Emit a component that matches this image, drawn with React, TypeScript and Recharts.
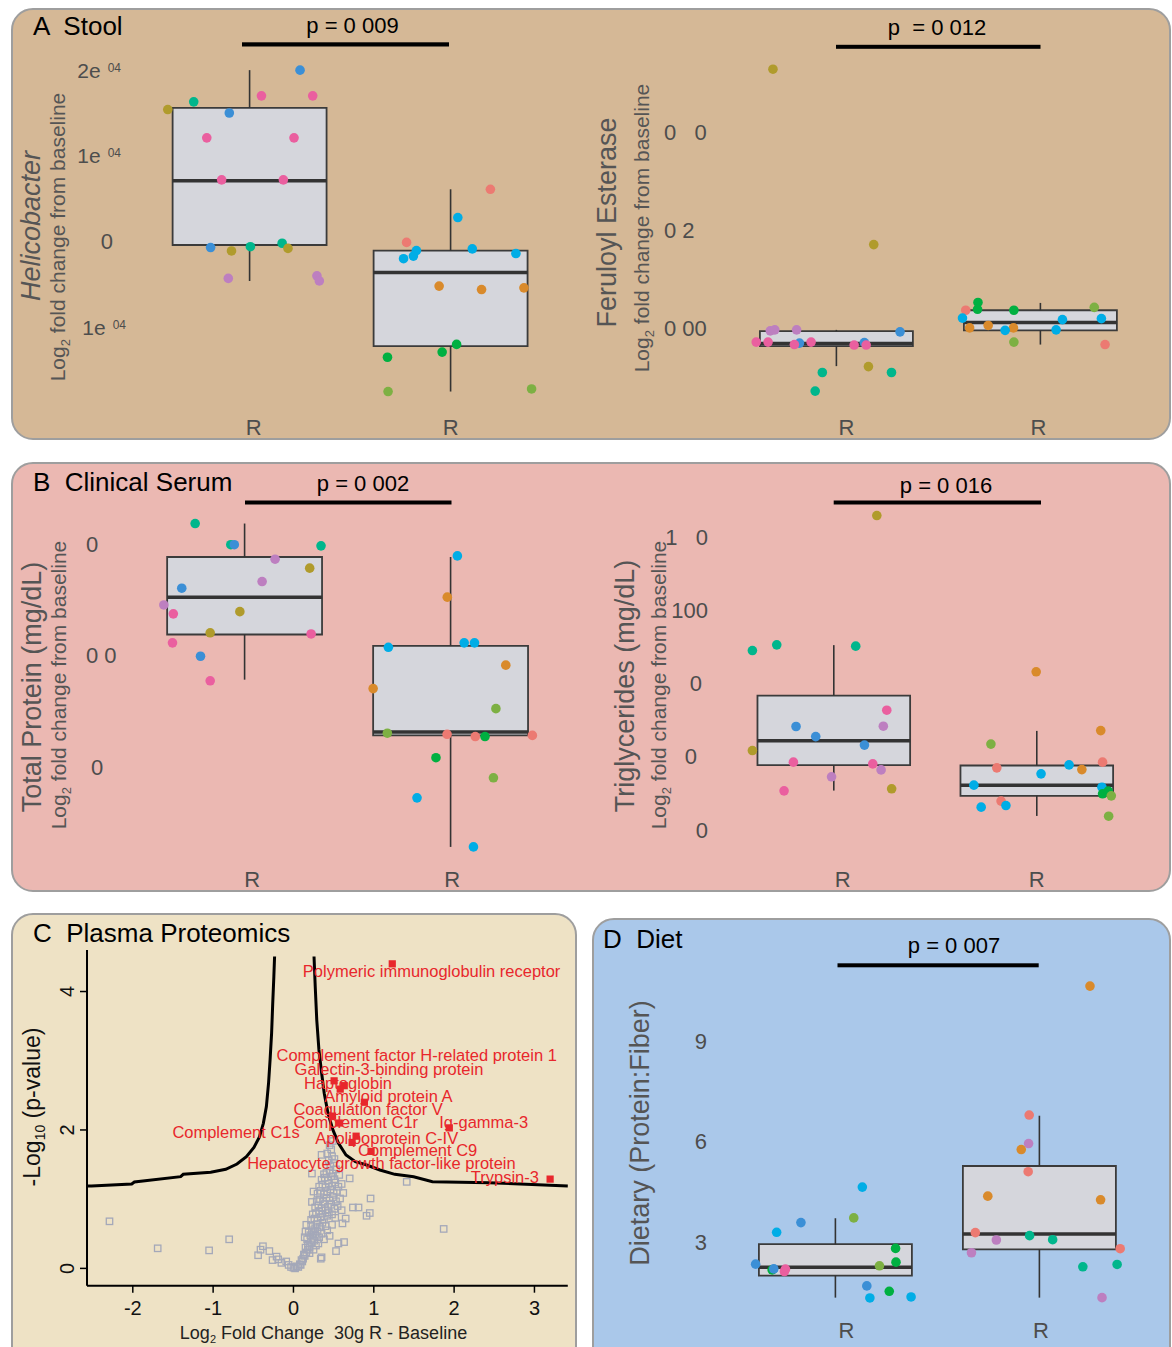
import React from 'react';
import { ComposedChart, Scatter, XAxis, YAxis, ReferenceArea, ReferenceLine } from 'recharts';

const FONT = '"Liberation Sans", Arial, Helvetica, sans-serif';
const TICK_GRAY = '#4d4d4d';
const TITLE_GRAY = '#555555';
const RED = '#e8272c';

const PALETTE: Record<string, string> = {
  olive: '#b09b2c',
  teal: '#00b68c',
  blue: '#3b8fd6',
  pink: '#ea5f9f',
  purple: '#bd7fc0',
  salmon: '#ec7a72',
  cyan: '#00ade6',
  orange: '#d98a2b',
  green: '#00b041',
  lime: '#7db043',
};

// ---------- Panel A left: Helicobacter ----------
const groupLabels = ['R', 'R'];
const heliTicks = [2, 1, 0, -1];
const heliTickText = ['2e', '1e', '0', '1e'];
const heliTickSup = ['04', '04', '', '04'];
const heliBoxes = [
  { lo: -0.46, q1: -0.04, med: 0.71, q3: 1.56, hi: 2.0 },
  { lo: -1.75, q1: -1.22, med: -0.36, q3: -0.105, hi: 0.61 },
];
const heliX1 = [0.593, 0.722, 1.251, 1.059, 1.314, 0.899, 0.787, 1.221, 0.861, 1.168, 0.806, 0.91, 1.004, 1.162, 1.191, 0.894, 1.335, 1.347];
const heliY1 = [1.54, 1.63, 2.0, 1.7, 1.7, 1.5, 1.21, 1.21, 0.72, 0.72, -0.07, -0.11, -0.06, -0.02, -0.08, -0.43, -0.4, -0.46];
const heliC1 = ['olive', 'teal', 'blue', 'pink', 'pink', 'blue', 'pink', 'pink', 'pink', 'pink', 'blue', 'olive', 'teal', 'teal', 'olive', 'purple', 'purple', 'purple'];
const heliX2 = [2.198, 2.036, 1.781, 1.83, 1.815, 1.766, 2.108, 2.325, 1.943, 2.154, 2.365, 2.03, 1.958, 1.686, 1.689, 2.403];
const heliY2 = [0.61, 0.28, -0.01, -0.105, -0.17, -0.2, -0.085, -0.14, -0.52, -0.56, -0.54, -1.2, -1.29, -1.35, -1.75, -1.72];
const heliC2 = ['salmon', 'cyan', 'salmon', 'cyan', 'cyan', 'cyan', 'cyan', 'cyan', 'orange', 'orange', 'orange', 'green', 'green', 'green', 'lime', 'lime'];

// ---------- Panel A right: Feruloyl Esterase ----------
const ferTicks = [0.4, 0.2, 0];
const ferTickText = ['0   0', '0 2', '0 00'];
const ferBoxes = [
  { lo: -0.077, q1: -0.036, med: -0.031, q3: -0.0055, hi: -0.003 },
  { lo: -0.033, q1: -0.004, med: 0.012, q3: 0.037, hi: 0.052 },
];
const ferX1 = [0.689, 1.183, 0.676, 0.698, 0.805, 1.312, 0.607, 0.665, 0.819, 0.794, 0.876, 1.137, 1.087, 1.146, 1.157, 0.931, 1.27, 0.896];
const ferY1 = [0.529, 0.171, -0.005, -0.003, -0.003, -0.007, -0.028, -0.028, -0.03, -0.033, -0.028, -0.029, -0.034, -0.034, -0.078, -0.09, -0.09, -0.128];
const ferC1 = ['olive', 'olive', 'purple', 'purple', 'purple', 'blue', 'pink', 'pink', 'blue', 'pink', 'pink', 'blue', 'pink', 'pink', 'olive', 'teal', 'teal', 'teal'];
const ferX2 = [1.694, 1.692, 1.634, 1.87, 2.264, 1.618, 2.108, 2.299, 1.653, 1.744, 1.868, 1.827, 2.077, 1.87, 2.317];
const ferY2 = [0.053, 0.039, 0.037, 0.037, 0.043, 0.021, 0.018, 0.02, 0.001, 0.006, 0.001, -0.004, -0.003, -0.028, -0.033];
const ferC2 = ['green', 'green', 'salmon', 'green', 'lime', 'cyan', 'cyan', 'cyan', 'orange', 'orange', 'orange', 'cyan', 'cyan', 'lime', 'salmon'];

// ---------- Panel B left: Total Protein ----------
const proTicks = [1, 0, -1];
const proTickText = ['0', '0 0', '0'];
const proBoxes = [
  { lo: -0.22, q1: 0.185, med: 0.52, q3: 0.88, hi: 1.18 },
  { lo: -1.72, q1: -0.72, med: -0.69, q3: 0.083, hi: 0.88 },
];
const proX1 = [0.76, 0.933, 0.95, 1.371, 1.148, 1.316, 1.085, 0.695, 0.608, 0.654, 0.977, 0.833, 1.323, 0.65, 0.786, 0.833];
const proY1 = [1.18, 0.99, 0.99, 0.98, 0.86, 0.78, 0.66, 0.6, 0.45, 0.37, 0.39, 0.2, 0.19, 0.11, -0.01, -0.23];
const proC1 = ['teal', 'teal', 'blue', 'teal', 'purple', 'olive', 'purple', 'blue', 'purple', 'pink', 'olive', 'olive', 'pink', 'pink', 'blue', 'pink'];
const proX2 = [2.033, 1.984, 1.698, 2.066, 2.116, 2.268, 1.624, 2.22, 1.693, 1.983, 2.12, 2.167, 2.397, 1.929, 2.208, 1.837, 2.111];
const proY2 = [0.89, 0.52, 0.07, 0.11, 0.11, -0.09, -0.3, -0.48, -0.7, -0.71, -0.73, -0.73, -0.72, -0.92, -1.1, -1.28, -1.72];
const proC2 = ['cyan', 'orange', 'cyan', 'cyan', 'cyan', 'orange', 'orange', 'lime', 'lime', 'salmon', 'salmon', 'green', 'salmon', 'green', 'lime', 'cyan', 'cyan'];

// ---------- Panel B right: Triglycerides ----------
const triTicks = [150, 100, 50, 0, -50];
const triTickText = ['1   0', '100', '0', '0', '0'];
const triBoxes = [
  { lo: -23.2, q1: -5.9, med: 10.7, q3: 41.6, hi: 76 },
  { lo: -40.5, q1: -26.8, med: -19.5, q3: -6.1, hi: 17.5 },
];
const triX1 = [1.212, 0.599, 0.719, 1.108, 1.261, 0.814, 1.244, 0.911, 1.151, 0.599, 0.801, 1.192, 1.233, 0.989, 0.755, 1.285];
const triY1 = [164.4, 72.3, 76.2, 75.3, 31.6, 20.5, 20.7, 13.6, 7.8, 4.1, -3.8, -5.0, -9.1, -13.8, -23.4, -22.0];
const triC1 = ['olive', 'teal', 'teal', 'teal', 'pink', 'blue', 'purple', 'blue', 'blue', 'olive', 'pink', 'pink', 'purple', 'purple', 'pink', 'olive'];
const triX2 = [1.997, 2.315, 1.774, 2.324, 1.803, 2.159, 2.222, 2.021, 1.69, 2.321, 2.324, 2.352, 2.367, 1.824, 1.726, 1.848, 2.354];
const triY2 = [57.8, 17.7, 8.5, -3.8, -7.7, -5.7, -8.9, -11.8, -19.5, -20.9, -25.4, -23.6, -26.8, -30.4, -34.5, -33.4, -40.7];
const triC2 = ['orange', 'orange', 'lime', 'salmon', 'salmon', 'cyan', 'orange', 'cyan', 'cyan', 'cyan', 'green', 'green', 'lime', 'salmon', 'cyan', 'cyan', 'lime'];

// ---------- Panel D: Diet ----------
const dietTicks = [9, 6, 3];
const dietTickText = ['9', '6', '3'];
const dietBoxes = [
  { lo: 1.33, q1: 1.99, med: 2.24, q3: 2.93, hi: 3.7 },
  { lo: 1.33, q1: 2.77, med: 3.23, q3: 5.26, hi: 6.76 },
];
const dietX1 = [1.132, 1.09, 0.831, 0.712, 1.295, 1.297, 1.216, 0.609, 0.69, 0.698, 0.755, 0.75, 1.154, 1.264, 1.169, 1.371];
const dietY1 = [4.63, 3.71, 3.57, 3.28, 2.8, 2.39, 2.28, 2.33, 2.16, 2.19, 2.18, 2.11, 1.68, 1.52, 1.32, 1.35];
const dietC1 = ['cyan', 'lime', 'blue', 'cyan', 'green', 'green', 'lime', 'blue', 'green', 'blue', 'pink', 'pink', 'blue', 'green', 'cyan', 'cyan'];
const dietX2 = [2.248, 1.95, 1.947, 1.911, 1.945, 1.747, 2.3, 1.686, 1.952, 1.789, 2.065, 1.667, 2.396, 2.213, 2.381, 2.307];
const dietY2 = [10.63, 6.78, 5.93, 5.75, 5.09, 4.36, 4.25, 3.27, 3.18, 3.05, 3.06, 2.67, 2.79, 2.25, 2.32, 1.33];
const dietC2 = ['orange', 'salmon', 'purple', 'orange', 'salmon', 'orange', 'orange', 'salmon', 'teal', 'purple', 'teal', 'purple', 'salmon', 'teal', 'teal', 'purple'];

// ---------- Panel C: volcano ----------
const volXTicks = [-2, -1, 0, 1, 2, 3];
const volYTicks = [0, 2, 4];
const leftCurveX = [-2.57, -2.514, -2.013, -1.98, -1.404, -1.372, -1.03, -0.843, -0.703, -0.586, -0.492, -0.422, -0.375, -0.337, -0.31, -0.291, -0.272, -0.258, -0.244, -0.235];
const leftCurveY = [1.19, 1.19, 1.219, 1.248, 1.325, 1.359, 1.388, 1.431, 1.508, 1.614, 1.749, 1.903, 2.096, 2.337, 2.675, 3.012, 3.398, 3.832, 4.217, 4.506];
const rightCurveX = [0.256, 0.271, 0.29, 0.317, 0.351, 0.383, 0.43, 0.491, 0.561, 0.654, 0.771, 0.912, 1.076, 1.262, 1.496, 1.73, 2.433, 3.415];
const rightCurveY = [4.506, 4.073, 3.591, 3.157, 2.82, 2.531, 2.241, 2.0, 1.808, 1.638, 1.542, 1.494, 1.422, 1.359, 1.325, 1.252, 1.238, 1.19];
const sigX = [1.23, 0.506, 0.632, 0.582, 0.883, 0.486, 0.57, 1.94, 0.78, 0.73, 0.966, 3.195];
const sigY = [4.4, 2.71, 2.64, 2.59, 2.4, 2.2, 2.1, 2.03, 1.91, 1.82, 1.69, 1.29];
const labelText = [
  'Polymeric immunoglobulin receptor',
  'Complement factor H-related protein 1',
  'Galectin-3-binding protein',
  'Haptoglobin',
  'Amyloid protein A',
  'Coagulation factor V',
  'Complement C1r',
  'Ig-gamma-3',
  'Complement C1s',
  'Apolipoprotein C-IV',
  'Complement C9',
  'Hepatocyte growth factor-like protein',
  'Trypsin-3',
];
const labelX = [0.117, -0.211, 0.014, 0.131, 0.383, 0.0, 0.0, 1.815, -1.507, 0.271, 0.805, -0.576, 2.208];
const labelY = [4.289, 3.085, 2.882, 2.675, 2.496, 2.308, 2.116, 2.116, 1.967, 1.884, 1.715, 1.523, 1.325];
const grayProteins: [number, number][] = [
  [-2.29, 0.68], [-1.69, 0.29], [-1.05, 0.26], [-0.8, 0.42], [1.87, 0.57], [1.41, 1.25],
  [-0.44, 0.19], [-0.41, 0.27], [-0.38, 0.32], [-0.3, 0.25], [-0.26, 0.12], [-0.21, 0.17], [-0.19, 0.13],
  [-0.15, 0.08], [-0.09, 0.1], [-0.06, 0.05], [-0.03, 0.02], [0.0, 0.01], [0.02, 0.0], [0.04, 0.03],
  [0.06, 0.02], [0.08, 0.06], [0.09, 0.05], [0.11, 0.1], [0.12, 0.14], [0.1, 0.12], [0.14, 0.18],
  [0.16, 0.23], [0.13, 0.2], [0.18, 0.27], [0.2, 0.22], [0.34, 0.14], [0.53, 0.25],
  [0.15, 0.3], [0.18, 0.34], [0.2, 0.31], [0.22, 0.38], [0.17, 0.42], [0.14, 0.45], [0.24, 0.44],
  [0.21, 0.48], [0.26, 0.4], [0.28, 0.47], [0.19, 0.52], [0.23, 0.55], [0.25, 0.51], [0.3, 0.53],
  [0.27, 0.58], [0.32, 0.45], [0.35, 0.5], [0.38, 0.42], [0.42, 0.55], [0.45, 0.47], [0.15, 0.53],
  [0.16, 0.63], [0.22, 0.62], [0.29, 0.64], [0.33, 0.6], [0.36, 0.66], [0.4, 0.61], [0.48, 0.63],
  [0.56, 0.36], [0.35, 0.16], [0.61, 0.65], [0.63, 0.38], [0.28, 0.33], [0.25, 0.27], [0.31, 0.36],
  [0.22, 0.7], [0.26, 0.72], [0.3, 0.69], [0.34, 0.74], [0.38, 0.71], [0.42, 0.76], [0.24, 0.78],
  [0.28, 0.8], [0.32, 0.83], [0.36, 0.79], [0.4, 0.84], [0.44, 0.81], [0.48, 0.78], [0.52, 0.73],
  [0.27, 0.88], [0.31, 0.91], [0.35, 0.87], [0.39, 0.93], [0.43, 0.89], [0.47, 0.92], [0.51, 0.86],
  [0.55, 0.9], [0.29, 0.97], [0.33, 1.0], [0.37, 0.96], [0.41, 1.02], [0.45, 0.98], [0.49, 1.03],
  [0.53, 0.97], [0.23, 0.96], [0.58, 1.01], [0.6, 0.84], [0.74, 0.88], [0.81, 0.88], [0.95, 0.8],
  [0.91, 0.76], [0.96, 1.01], [0.65, 0.72],
  [0.25, 1.11], [0.3, 1.08], [0.34, 1.12], [0.38, 1.07], [0.42, 1.1], [0.46, 1.14], [0.5, 1.09],
  [0.54, 1.12], [0.32, 1.18], [0.36, 1.21], [0.4, 1.17], [0.44, 1.22], [0.48, 1.19], [0.52, 1.24],
  [0.56, 1.18], [0.35, 1.28], [0.39, 1.31], [0.43, 1.27], [0.47, 1.33], [0.51, 1.29], [0.41, 1.38],
  [0.45, 1.41], [0.49, 1.37], [0.53, 1.43], [0.38, 1.36], [0.46, 1.48], [0.5, 1.52], [0.44, 1.56],
  [0.48, 1.62], [0.42, 1.66], [0.47, 1.72], [0.7, 1.3], [0.6, 1.22], [0.23, 1.37], [0.57, 1.35],
  [0.62, 1.09], [0.35, 1.64], [0.51, 1.58], [0.45, 1.78], [0.49, 1.84],
];

type Pt = { x: number; y: number; c: string };
const toPts = (xs: number[], ys: number[], cs: string[]): Pt[] => xs.map((x, i) => ({ x, y: ys[i], c: cs[i] }));
type BoxStat = { lo: number; q1: number; med: number; q3: number; hi: number };
type Rect = { x: number; y: number; w: number; h: number };

const YW = 120;
const XH = 60;

function Dot(props: any) {
  const { cx, cy, payload } = props;
  if (cx == null || cy == null) return <g />;
  return <circle cx={cx} cy={cy} r={4.8} fill={PALETTE[payload.c]} />;
}

interface BoxChartProps {
  plot: Rect;
  yDomain: [number, number];
  boxes: BoxStat[];
  halfW: number;
  points: Pt[];
  yTicks: number[];
  yText: string[];
  ySup?: string[];
  yAnchor: 'start' | 'end';
  yOffsets: number[];
  rOffset: number;
  rShift: number[];
}

function BoxChart(p: BoxChartProps) {
  const { plot } = p;
  const findIdx = (v: number) => p.yTicks.findIndex((t) => Math.abs(t - v) < 1e-9);
  const YTick = (tp: any) => {
    const i = findIdx(tp.payload.value);
    if (i < 0) return <g />;
    const sup = p.ySup ? p.ySup[i] : '';
    return (
      <text
        x={tp.x - p.yOffsets[i]}
        y={tp.y}
        dy="0.36em"
        textAnchor={p.yAnchor}
        fill={TICK_GRAY}
        fontSize={sup ? 21 : 22}
        fontFamily={FONT}
        style={{ whiteSpace: 'pre' }}
      >
        {p.yText[i]}
        {sup ? (
          <tspan dx={7} dy={-6} fontSize={12}>
            {sup}
          </tspan>
        ) : null}
      </text>
    );
  };
  const XTick = (tp: any) => {
    const idx = Math.round(tp.payload.value) - 1;
    return (
      <text
        x={tp.x + p.rShift[idx]}
        y={tp.y + p.rOffset}
        dy="0.36em"
        textAnchor="middle"
        fill={TICK_GRAY}
        fontSize={22}
        fontFamily={FONT}
      >
        {groupLabels[idx]}
      </text>
    );
  };
  return (
    <div style={{ position: 'absolute', left: plot.x - YW, top: plot.y }}>
      <ComposedChart width={plot.w + YW} height={plot.h + XH} margin={{ top: 0, right: 0, bottom: 0, left: 0 }}>
        <XAxis
          type="number"
          dataKey="x"
          domain={[0.4, 2.6]}
          ticks={[1, 2]}
          height={XH}
          axisLine={false}
          tickLine={false}
          tickSize={0}
          tickMargin={0}
          interval={0}
          tick={XTick}
        />
        <YAxis
          type="number"
          dataKey="y"
          domain={p.yDomain}
          ticks={p.yTicks}
          width={YW}
          axisLine={false}
          tickLine={false}
          tickSize={0}
          tickMargin={0}
          interval={0}
          tick={YTick}
        />
        {p.boxes.map((b, i) => (
          <ReferenceLine
            key={`wu${i}`}
            segment={[{ x: i + 1, y: b.q3 }, { x: i + 1, y: b.hi }]}
            stroke="#333"
            strokeWidth={1.6}
            ifOverflow="visible"
          />
        ))}
        {p.boxes.map((b, i) => (
          <ReferenceLine
            key={`wl${i}`}
            segment={[{ x: i + 1, y: b.lo }, { x: i + 1, y: b.q1 }]}
            stroke="#333"
            strokeWidth={1.6}
            ifOverflow="visible"
          />
        ))}
        {p.boxes.map((b, i) => (
          <ReferenceArea
            key={`bx${i}`}
            x1={i + 1 - p.halfW}
            x2={i + 1 + p.halfW}
            y1={b.q1}
            y2={b.q3}
            fill="#d5d6dc"
            fillOpacity={1}
            stroke="#3b3b3b"
            strokeWidth={1.8}
            ifOverflow="visible"
          />
        ))}
        {p.boxes.map((b, i) => (
          <ReferenceLine
            key={`md${i}`}
            segment={[{ x: i + 1 - p.halfW, y: b.med }, { x: i + 1 + p.halfW, y: b.med }]}
            stroke="#333"
            strokeWidth={3.5}
            ifOverflow="visible"
          />
        ))}
        <Scatter data={p.points} isAnimationActive={false} shape={Dot} />
      </ComposedChart>
    </div>
  );
}

function GraySquare(props: any) {
  const { cx, cy } = props;
  if (cx == null) return <g />;
  return <rect x={cx - 3.2} y={cy - 3.2} width={6.4} height={6.4} fill="none" stroke="#a4a8b9" strokeWidth={1.3} />;
}
function RedSquare(props: any) {
  const { cx, cy } = props;
  if (cx == null) return <g />;
  return <rect x={cx - 3.6} y={cy - 3.6} width={7.2} height={7.2} fill={RED} />;
}
function LabelShape(props: any) {
  const { cx, cy, payload } = props;
  if (cx == null) return <g />;
  return (
    <text x={cx} y={cy} dy="0.36em" fill={RED} fontSize={16.5} fontFamily={FONT} style={{ whiteSpace: 'pre' }}>
      {payload.t}
    </text>
  );
}
const Empty = () => <g />;

function Volcano() {
  const plot: Rect = { x: 86.9, y: 950, w: 480.8, h: 335.7 };
  const VW = 80;
  const gray = grayProteins.map(([x, y]) => ({ x, y }));
  const left = leftCurveX.map((x, i) => ({ x, y: leftCurveY[i] }));
  const right = rightCurveX.map((x, i) => ({ x, y: rightCurveY[i] }));
  const sig = sigX.map((x, i) => ({ x, y: sigY[i] }));
  const labels = labelText.map((t, i) => ({ x: labelX[i], y: labelY[i], t }));
  const XT = (tp: any) => (
    <text x={tp.x} y={tp.y + 22} textAnchor="middle" fill="#111" fontSize={20} fontFamily={FONT}>
      {tp.payload.value}
    </text>
  );
  const YT = (tp: any) => (
    <text
      transform={`translate(${tp.x - 6.5},${tp.y}) rotate(-90)`}
      textAnchor="middle"
      fill="#111"
      fontSize={20}
      fontFamily={FONT}
    >
      {tp.payload.value}
    </text>
  );
  return (
    <div style={{ position: 'absolute', left: plot.x - VW, top: plot.y }}>
      <ComposedChart width={plot.w + VW} height={plot.h + XH} margin={{ top: 0, right: 0, bottom: 0, left: 0 }}>
        <XAxis
          type="number"
          dataKey="x"
          domain={[-2.57, 3.41]}
          ticks={volXTicks}
          height={XH}
          axisLine={{ stroke: '#000', strokeWidth: 2 }}
          tickLine={{ stroke: '#000', strokeWidth: 1.5 }}
          tickSize={7}
          tickMargin={0}
          interval={0}
          tick={XT}
        />
        <YAxis
          type="number"
          dataKey="y"
          domain={[-0.25, 4.6]}
          ticks={volYTicks}
          width={VW}
          axisLine={{ stroke: '#000', strokeWidth: 2 }}
          tickLine={{ stroke: '#000', strokeWidth: 1.5 }}
          tickSize={7}
          tickMargin={0}
          interval={0}
          tick={YT}
        />
        <Scatter data={gray} isAnimationActive={false} shape={GraySquare} />
        <Scatter data={left} isAnimationActive={false} shape={Empty} line={{ stroke: '#000', strokeWidth: 3 }} lineType="joint" />
        <Scatter data={right} isAnimationActive={false} shape={Empty} line={{ stroke: '#000', strokeWidth: 3 }} lineType="joint" />
        <Scatter data={sig} isAnimationActive={false} shape={RedSquare} />
        <Scatter data={labels} isAnimationActive={false} shape={LabelShape} />
      </ComposedChart>
    </div>
  );
}

const Log2 = ({ size }: { size: number }) => (
  <>
    Log
    <tspan fontSize={size * 0.62} dy={size * 0.25}>
      2
    </tspan>
    <tspan dy={-size * 0.25}> fold change from baseline</tspan>
  </>
);

function Overlay() {
  const rot = (x: number, y: number) => `translate(${x},${y}) rotate(-90)`;
  const base = { fontFamily: FONT, style: { whiteSpace: 'pre' as const } };
  return (
    <svg width={1172} height={1347} style={{ position: 'absolute', left: 0, top: 0, pointerEvents: 'none' }}>
      {/* Panel titles */}
      <text x={33} y={35} fontSize={26} fill="#000" {...base}>A  Stool</text>
      <text x={33} y={491} fontSize={26} fill="#000" {...base}>B  Clinical Serum</text>
      <text x={33} y={942} fontSize={26} fill="#000" {...base}>C  Plasma Proteomics</text>
      <text x={603} y={948} fontSize={26} fill="#000" {...base}>D  Diet</text>

      {/* p-values and bars */}
      <text x={352.5} y={33} fontSize={22} textAnchor="middle" fill="#000" {...base}>p = 0 009</text>
      <rect x={242} y={42.3} width={207} height={4.2} fill="#000" />
      <text x={937} y={35} fontSize={22} textAnchor="middle" fill="#000" {...base}>p  = 0 012</text>
      <rect x={836} y={44.8} width={204.5} height={4} fill="#000" />
      <text x={363} y={491} fontSize={22} textAnchor="middle" fill="#000" {...base}>p = 0 002</text>
      <rect x={245} y={500.5} width={206.5} height={4} fill="#000" />
      <text x={946} y={492.5} fontSize={22} textAnchor="middle" fill="#000" {...base}>p = 0 016</text>
      <rect x={833.7} y={500.5} width={207.3} height={4} fill="#000" />
      <text x={954} y={953} fontSize={22} textAnchor="middle" fill="#000" {...base}>p = 0 007</text>
      <rect x={837.5} y={963.3} width={201.2} height={4} fill="#000" />

      {/* Axis titles A */}
      <text transform={rot(40, 226)} textAnchor="middle" fontSize={27} fontStyle="italic" fill={TITLE_GRAY} {...base}>Helicobacter</text>
      <text transform={rot(65, 237)} textAnchor="middle" fontSize={21} fill={TITLE_GRAY} {...base}><Log2 size={21} /></text>
      <text transform={rot(616, 222.5)} textAnchor="middle" fontSize={27} fill={TITLE_GRAY} {...base}>Feruloyl Esterase</text>
      <text transform={rot(649, 228)} textAnchor="middle" fontSize={21} fill={TITLE_GRAY} {...base}><Log2 size={21} /></text>

      {/* Axis titles B */}
      <text transform={rot(41, 687)} textAnchor="middle" fontSize={27} fill={TITLE_GRAY} {...base}>Total Protein (mg/dL)</text>
      <text transform={rot(65.5, 685)} textAnchor="middle" fontSize={21} fill={TITLE_GRAY} {...base}><Log2 size={21} /></text>
      <text transform={rot(634, 686)} textAnchor="middle" fontSize={27} fill={TITLE_GRAY} {...base}>Triglycerides (mg/dL)</text>
      <text transform={rot(665.5, 685)} textAnchor="middle" fontSize={21} fill={TITLE_GRAY} {...base}><Log2 size={21} /></text>

      {/* Axis titles C */}
      <text transform={rot(40, 1107)} textAnchor="middle" fontSize={23} fill="#111" {...base}>
        -Log<tspan fontSize={14} dy={5}>10</tspan><tspan dy={-5}> (p-value)</tspan>
      </text>
      <text x={323.5} y={1339} textAnchor="middle" fontSize={18} fill="#222" {...base}>
        Log<tspan fontSize={11} dy={4}>2</tspan><tspan dy={-4}> Fold Change  30g R - Baseline</tspan>
      </text>

      {/* Axis title D */}
      <text transform={rot(649, 1133)} textAnchor="middle" fontSize={27} fill={TITLE_GRAY} {...base}>Dietary (Protein:Fiber)</text>
    </svg>
  );
}

const panelStyle = (left: number, top: number, width: number, height: number, bg: string): React.CSSProperties => ({
  position: 'absolute',
  left,
  top,
  width,
  height,
  background: bg,
  border: '2px solid #9e9e9e',
  borderRadius: 22,
  boxSizing: 'border-box',
});

export default function App() {
  return (
    <div
      style={{
        position: 'absolute',
        left: 0,
        top: 0,
        width: 1172,
        height: 1347,
        overflow: 'hidden',
        background: '#ffffff',
        fontFamily: FONT,
      }}
    >
      <div style={panelStyle(11, 8, 1160, 432, '#d5b896')} />
      <div style={panelStyle(11, 462, 1160, 430, '#ebb8b2')} />
      <div style={panelStyle(11, 913, 566, 460, '#eee2c5')} />
      <div style={panelStyle(592, 918, 579, 460, '#aac8ea')} />

      <BoxChart
        plot={{ x: 128.9, y: 52.5, w: 442.2, h: 351.4 }}
        yDomain={[-1.9, 2.2]}
        boxes={heliBoxes}
        halfW={0.383}
        points={[...toPts(heliX1, heliY1, heliC1), ...toPts(heliX2, heliY2, heliC2)]}
        yTicks={heliTicks}
        yText={heliTickText}
        ySup={heliTickSup}
        yAnchor="end"
        yOffsets={[8, 8, 16, 3]}
        rOffset={23}
        rShift={[4, 0]}
      />
      <BoxChart
        plot={{ x: 713.6, y: 53.6, w: 448.8, h: 352.8 }}
        yDomain={[-0.16, 0.56]}
        boxes={ferBoxes}
        halfW={0.375}
        points={[...toPts(ferX1, ferY1, ferC1), ...toPts(ferX2, ferY2, ferC2)]}
        yTicks={ferTicks}
        yText={ferTickText}
        yAnchor="start"
        yOffsets={[50, 50, 50]}
        rOffset={20.6}
        rShift={[10, -2]}
      />
      <BoxChart
        plot={{ x: 121.4, y: 498.9, w: 453.2, h: 368 }}
        yDomain={[-1.9, 1.4]}
        boxes={proBoxes}
        halfW={0.376}
        points={[...toPts(proX1, proY1, proC1), ...toPts(proX2, proY2, proC2)]}
        yTicks={proTicks}
        yText={proTickText}
        yAnchor="start"
        yOffsets={[35, 35, 30]}
        rOffset={11.8}
        rShift={[7.5, 1.5]}
      />
      <BoxChart
        plot={{ x: 712.2, y: 500.1, w: 446.6, h: 337.2 }}
        yDomain={[-55, 175]}
        boxes={triBoxes}
        halfW={0.376}
        points={[...toPts(triX1, triY1, triC1), ...toPts(triX2, triY2, triC2)]}
        yTicks={triTicks}
        yText={triTickText}
        yAnchor="end"
        yOffsets={[4, 4, 10, 15, 4]}
        rOffset={41.4}
        rShift={[9, 0]}
      />
      <BoxChart
        plot={{ x: 712.6, y: 967, w: 448.8, h: 348.4 }}
        yDomain={[0.8, 11.2]}
        boxes={dietBoxes}
        halfW={0.375}
        points={[...toPts(dietX1, dietY1, dietC1), ...toPts(dietX2, dietY2, dietC2)]}
        yTicks={dietTicks}
        yText={dietTickText}
        yAnchor="end"
        yOffsets={[6, 6, 6]}
        rOffset={14.6}
        rShift={[11, 1.5]}
      />
      <Volcano />
      <Overlay />
    </div>
  );
}
